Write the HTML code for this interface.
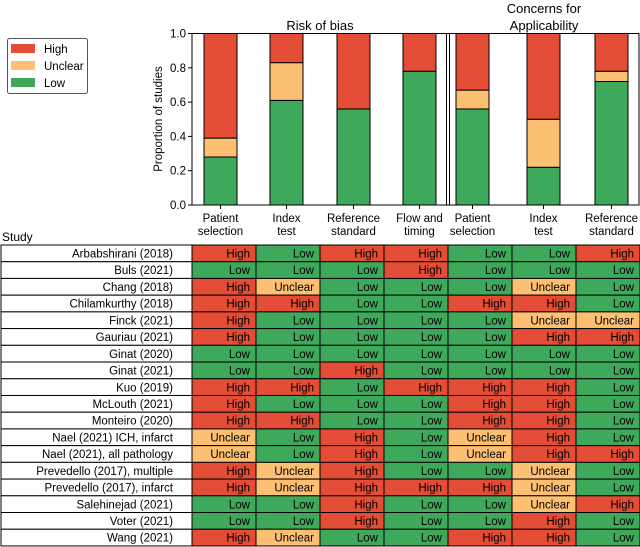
<!DOCTYPE html>
<html><head><meta charset="utf-8">
<style>
html,body{margin:0;padding:0;background:#fff;}
svg{display:block;font-family:"Liberation Sans","DejaVu Sans",sans-serif;}
</style></head>
<body>
<svg id="fig" width="640" height="547" viewBox="0 0 640 547" xmlns="http://www.w3.org/2000/svg"></svg>
<script>
// ---- chart data ----
const categories = ["Patient\nselection","Index\ntest","Reference\nstandard","Flow and\ntiming","Patient\nselection","Index\ntest","Reference\nstandard"];
const lowValues     = [0.28, 0.61, 0.56, 0.78, 0.56, 0.22, 0.72];
const unclearValues = [0.11, 0.22, 0.00, 0.00, 0.11, 0.28, 0.06];
const highValues    = [0.61, 0.17, 0.44, 0.22, 0.33, 0.50, 0.22];
const yTicks = [0.0, 0.2, 0.4, 0.6, 0.8, 1.0];
const yTickLabels = ["0.0","0.2","0.4","0.6","0.8","1.0"];
// ---- table data ----
const studies = ["Arbabshirani (2018)","Buls (2021)","Chang (2018)","Chilamkurthy (2018)","Finck (2021)","Gauriau (2021)","Ginat (2020)","Ginat (2021)","Kuo (2019)","McLouth (2021)","Monteiro (2020)","Nael (2021) ICH, infarct","Nael (2021), all pathology","Prevedello (2017), multiple","Prevedello (2017), infarct","Salehinejad (2021)","Voter (2021)","Wang (2021)"];
const ratings = ["HLHHLLH","LLLHLLL","HULLLUL","HHLLHHL","HLLLLUU","HLLLLHH","LLLLLLL","LLHLLLL","HHLHHHL","HLLLHHL","HHLLHHL","ULHLUHL","ULHLUHH","HUHLLUL","HUHHHUL","LLHLLUH","LLHLLHL","HULLHHL"];

const C = {H:"#e34d35", U:"#fdbf72", L:"#3ea95a"};
const NAMES = {H:"High", U:"Unclear", L:"Low"};
const svg = document.getElementById("fig");
const NS = "http://www.w3.org/2000/svg";
function mk(tag, attrs, parent){const e=document.createElementNS(NS,tag);for(const k in attrs)e.setAttribute(k,attrs[k]);(parent||svg).appendChild(e);return e;}

// axes
const y0=205, y1=33.5, xL=192, xR=639;
const yScale = v => y0 - v*(y0-y1);
const barLeft = [204,270,337,403,456,527,595];
const barW = 33;
const xBand = i => barLeft[i];

// titles
let t;
t=mk("text",{x:320,y:30,"text-anchor":"middle","font-size":13});t.textContent="Risk of bias";


t=mk("text",{x:544,y:13,"text-anchor":"middle","font-size":13});t.textContent="Concerns for";


t=mk("text",{x:544,y:30,"text-anchor":"middle","font-size":13});t.textContent="Applicability";



// bars
for(let i=0;i<categories.length;i++){
  const segs=[["L",0,lowValues[i]],["U",lowValues[i],lowValues[i]+unclearValues[i]],["H",lowValues[i]+unclearValues[i],lowValues[i]+unclearValues[i]+highValues[i]]];
  for(const [k,a,b] of segs){
    if(b-a<=0) continue;
    const r=mk("rect",{x:xBand(i),y:yScale(b),width:barW,height:yScale(a)-yScale(b),fill:C[k],stroke:"#000","stroke-width":1});
    
    
  }
  const cx=xBand(i)+barW/2;
  mk("line",{x1:cx,y1:y0,x2:cx,y2:y0+4,stroke:"#000","stroke-width":1});
  const lines=categories[i].split("\n");
  lines.forEach((ln,j)=>{const tt=mk("text",{x:cx,y:222+j*13,"text-anchor":"middle","font-size":11.5});tt.textContent=ln;
    
    });
}
// frame
const fr=mk("rect",{x:xL,y:y1,width:xR-xL,height:y0-y1,fill:"none",stroke:"#000","stroke-width":1});


mk("line",{x1:446.5,y1:y1,x2:446.5,y2:y0,stroke:"#000","stroke-width":1});
mk("line",{x1:449.5,y1:y1,x2:449.5,y2:y0,stroke:"#000","stroke-width":1});
yTicks.forEach((v,j)=>{
  mk("line",{x1:xL-4,y1:yScale(v),x2:xL,y2:yScale(v),stroke:"#000"});
  const tt=mk("text",{x:xL-6,y:yScale(v)+4,"text-anchor":"end","font-size":11.5});tt.textContent=yTickLabels[j];
  
  
});
t=mk("text",{x:162,y:119,"text-anchor":"middle","font-size":11.5,transform:"rotate(-90 162 119)"});t.textContent="Proportion of studies";



// legend
const lg=mk("g",{});


mk("rect",{x:7.5,y:38.5,width:80,height:55,rx:2,fill:"#fff",stroke:"#555"},lg);
["H","U","L"].forEach((k,j)=>{
  const g=mk("g",{},lg);
  
  
  mk("rect",{x:11,y:44+j*17,width:24,height:9,fill:C[k]},g);
  const tt=mk("text",{x:44,y:53+j*17,"font-size":11.5},g);tt.textContent=NAMES[k];
});

// table
t=mk("text",{x:2,y:241,"font-size":12});t.textContent="Study";


const rowTop=245, rowH=16.72;
const colX=[192,256,320,384,448,512,576,640];
studies.forEach((s,r)=>{
  const y=rowTop+r*rowH;
  const nr=mk("rect",{x:1,y:y,width:191,height:rowH,fill:"#fff",stroke:"#000","stroke-width":1});
  
  
  const tt=mk("text",{x:173,y:y+12.5,"text-anchor":"end","font-size":11.5});tt.textContent=s;
  
  
  for(let c=0;c<7;c++){
    const k=ratings[r][c];
    const cell=mk("rect",{x:colX[c],y:y,width:colX[c+1]-colX[c],height:rowH,fill:C[k],stroke:"#000","stroke-width":1});
    
    
    const ct=mk("text",{x:colX[c+1]-6,y:y+12.5,"text-anchor":"end","font-size":11.5});ct.textContent=NAMES[k];
    
    
  }
});
</script>
</body></html>
